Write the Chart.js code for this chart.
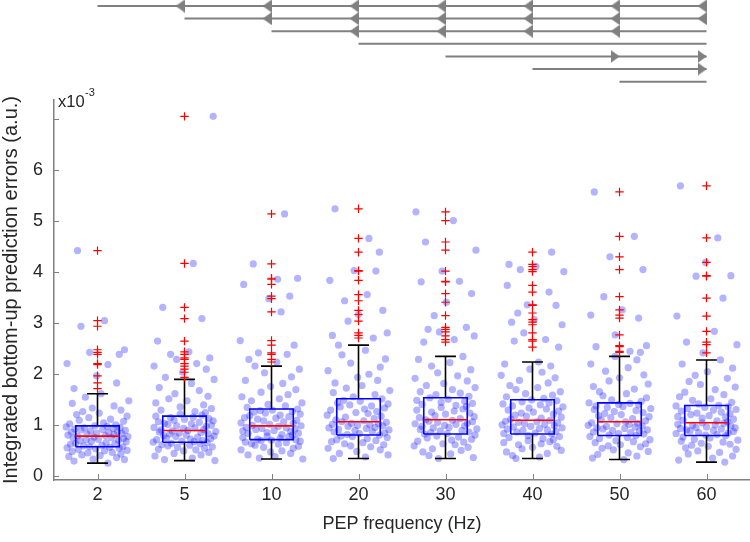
<!DOCTYPE html>
<html>
<head>
<meta charset="utf-8">
<script src="https://cdn.jsdelivr.net/npm/chart.js@4.4.1/dist/chart.umd.min.js"></script>
<style>
  html, body { margin: 0; padding: 0; background: #fff; }
  #wrap { position: relative; width: 750px; height: 542px; }
  #wrap canvas { position: absolute; left: 0; top: 0; }
</style>
</head>
<body>
<div id="wrap">
  <canvas id="mainChart" width="750" height="542"></canvas>
  <canvas id="sigChart" width="750" height="95"></canvas>
</div>
<script>
// values in units of 1e-3
const categories = ["2", "5", "10", "20", "30", "40", "50", "60"];
const whiskerLow = [0.26, 0.31, 0.34, 0.35, 0.35, 0.35, 0.33, 0.28];
const q1 = [0.58, 0.67, 0.72, 0.81, 0.83, 0.83, 0.80, 0.80];
const medians = [0.79, 0.90, 0.99, 1.07, 1.11, 1.10, 1.07, 1.05];
const q3 = [0.99, 1.18, 1.32, 1.52, 1.54, 1.50, 1.44, 1.39];
const whiskerHigh = [1.62, 1.90, 2.16, 2.57, 2.35, 2.24, 2.35, 2.28];
const yTicks = [0, 1, 2, 3, 4, 5, 6, 7];

const outliers = [
  [1.72, 1.83, 1.97, 2.19, 2.21, 2.39, 2.43, 2.48, 2.94, 3.05, 4.42],
  [1.94, 2.04, 2.10, 2.16, 2.21, 2.29, 2.32, 2.39, 2.44, 2.65, 3.09, 3.31, 4.17, 7.05],
  [2.24, 2.29, 2.39, 2.42, 2.57, 2.66, 3.22, 3.48, 3.53, 3.76, 3.86, 3.88, 4.16, 5.14],
  [2.71, 2.76, 2.81, 3.04, 3.17, 3.25, 3.44, 3.56, 3.84, 4.02, 4.03, 4.39, 4.66, 5.24],
  [2.63, 2.68, 2.75, 2.83, 2.88, 2.92, 3.15, 3.41, 3.58, 3.81, 3.82, 4.02, 4.43, 4.59, 5.01, 5.18],
  [2.53, 2.65, 2.68, 2.81, 2.97, 3.02, 3.07, 3.20, 3.35, 3.36, 3.61, 3.74, 4.01, 4.05, 4.11, 4.15, 4.39],
  [2.43, 2.45, 2.54, 2.56, 2.77, 3.10, 3.16, 3.26, 3.52, 4.05, 4.30, 4.70, 5.57],
  [2.42, 2.58, 2.63, 2.84, 3.14, 3.49, 3.92, 3.93, 4.19, 4.67, 5.69]
];

// individual trials (inliers), read roughly off the point clouds
const samples = [
  [0.26, 0.30, 0.33, 0.34, 0.37, 0.39, 0.41, 0.42, 0.44, 0.46, 0.47, 0.49, 0.50, 0.51, 0.53, 0.54, 0.55, 0.56, 0.57, 0.58,
   0.58, 0.60, 0.61, 0.63, 0.64, 0.65, 0.66, 0.68, 0.69, 0.70, 0.71, 0.72, 0.73, 0.74, 0.75, 0.76, 0.77, 0.78, 0.79,
   0.80, 0.81, 0.82, 0.83, 0.84, 0.85, 0.86, 0.87, 0.88, 0.89, 0.90, 0.91, 0.92, 0.93, 0.94, 0.95, 0.96, 0.97, 0.98, 0.99,
   1.01, 1.03, 1.05, 1.08, 1.10, 1.12, 1.15, 1.18, 1.21, 1.24, 1.27, 1.30, 1.34, 1.38, 1.43, 1.48, 1.55, 1.62],
  [0.31, 0.33, 0.36, 0.40, 0.42, 0.45, 0.47, 0.50, 0.52, 0.53, 0.55, 0.57, 0.58, 0.60, 0.61, 0.62, 0.64, 0.65, 0.66, 0.67,
   0.68, 0.69, 0.70, 0.72, 0.73, 0.74, 0.75, 0.77, 0.78, 0.79, 0.80, 0.81, 0.83, 0.84, 0.85, 0.86, 0.87, 0.88, 0.89, 0.90,
   0.91, 0.92, 0.94, 0.95, 0.96, 0.98, 0.99, 1.00, 1.02, 1.03, 1.04, 1.06, 1.07, 1.09, 1.10, 1.12, 1.13, 1.15, 1.16, 1.18,
   1.20, 1.22, 1.25, 1.27, 1.30, 1.33, 1.36, 1.40, 1.44, 1.48, 1.52, 1.57, 1.62, 1.68, 1.74, 1.82, 1.90],
  [0.34, 0.36, 0.39, 0.42, 0.45, 0.48, 0.50, 0.52, 0.55, 0.57, 0.59, 0.61, 0.63, 0.64, 0.66, 0.67, 0.69, 0.70, 0.71, 0.72,
   0.73, 0.75, 0.76, 0.78, 0.79, 0.81, 0.82, 0.84, 0.85, 0.86, 0.88, 0.89, 0.90, 0.92, 0.93, 0.94, 0.95, 0.96, 0.98, 0.99,
   1.00, 1.02, 1.04, 1.05, 1.07, 1.09, 1.10, 1.12, 1.14, 1.15, 1.17, 1.19, 1.20, 1.22, 1.24, 1.26, 1.27, 1.29, 1.30, 1.32,
   1.35, 1.38, 1.41, 1.44, 1.48, 1.52, 1.56, 1.60, 1.65, 1.70, 1.76, 1.82, 1.88, 1.95, 2.03, 2.10, 2.16],
  [0.35, 0.38, 0.42, 0.45, 0.49, 0.52, 0.55, 0.58, 0.60, 0.62, 0.64, 0.66, 0.68, 0.70, 0.72, 0.74, 0.76, 0.78, 0.79, 0.81,
   0.82, 0.84, 0.85, 0.87, 0.88, 0.90, 0.91, 0.92, 0.94, 0.95, 0.96, 0.98, 0.99, 1.00, 1.01, 1.02, 1.03, 1.04, 1.06, 1.07,
   1.09, 1.11, 1.13, 1.16, 1.18, 1.20, 1.23, 1.25, 1.27, 1.30, 1.32, 1.34, 1.36, 1.38, 1.40, 1.42, 1.44, 1.47, 1.49, 1.52,
   1.56, 1.60, 1.64, 1.68, 1.73, 1.78, 1.83, 1.88, 1.94, 2.00, 2.07, 2.14, 2.22, 2.30, 2.38, 2.47, 2.57],
  [0.35, 0.37, 0.41, 0.44, 0.48, 0.51, 0.54, 0.57, 0.60, 0.62, 0.64, 0.67, 0.69, 0.71, 0.73, 0.75, 0.77, 0.79, 0.81, 0.83,
   0.84, 0.86, 0.87, 0.89, 0.90, 0.92, 0.93, 0.95, 0.96, 0.98, 0.99, 1.00, 1.02, 1.03, 1.04, 1.06, 1.07, 1.08, 1.10, 1.11,
   1.13, 1.15, 1.17, 1.19, 1.22, 1.24, 1.26, 1.28, 1.30, 1.32, 1.35, 1.37, 1.39, 1.41, 1.43, 1.45, 1.47, 1.49, 1.51, 1.54,
   1.57, 1.60, 1.63, 1.66, 1.70, 1.74, 1.78, 1.82, 1.87, 1.92, 1.97, 2.03, 2.09, 2.16, 2.23, 2.29, 2.35],
  [0.35, 0.38, 0.41, 0.45, 0.48, 0.51, 0.54, 0.57, 0.59, 0.62, 0.64, 0.66, 0.68, 0.70, 0.72, 0.74, 0.76, 0.78, 0.80, 0.83,
   0.84, 0.85, 0.87, 0.88, 0.90, 0.91, 0.93, 0.94, 0.95, 0.97, 0.98, 0.99, 1.01, 1.02, 1.03, 1.05, 1.06, 1.07, 1.08, 1.10,
   1.12, 1.14, 1.16, 1.18, 1.20, 1.22, 1.24, 1.26, 1.28, 1.30, 1.32, 1.34, 1.36, 1.38, 1.40, 1.42, 1.44, 1.46, 1.48, 1.50,
   1.53, 1.56, 1.59, 1.62, 1.66, 1.70, 1.74, 1.78, 1.83, 1.88, 1.93, 1.98, 2.04, 2.10, 2.16, 2.20, 2.24],
  [0.33, 0.36, 0.40, 0.43, 0.46, 0.49, 0.52, 0.55, 0.58, 0.60, 0.62, 0.64, 0.66, 0.68, 0.70, 0.72, 0.74, 0.76, 0.78, 0.80,
   0.81, 0.83, 0.84, 0.86, 0.87, 0.89, 0.90, 0.91, 0.93, 0.94, 0.95, 0.97, 0.98, 0.99, 1.00, 1.02, 1.03, 1.04, 1.05, 1.07,
   1.09, 1.11, 1.13, 1.15, 1.17, 1.19, 1.21, 1.23, 1.25, 1.27, 1.29, 1.31, 1.33, 1.35, 1.37, 1.38, 1.40, 1.41, 1.43, 1.44,
   1.47, 1.50, 1.54, 1.58, 1.62, 1.66, 1.71, 1.76, 1.81, 1.87, 1.93, 1.99, 2.06, 2.13, 2.20, 2.28, 2.35],
  [0.28, 0.32, 0.36, 0.40, 0.44, 0.47, 0.50, 0.53, 0.56, 0.59, 0.61, 0.63, 0.65, 0.67, 0.69, 0.71, 0.73, 0.75, 0.77, 0.80,
   0.81, 0.82, 0.84, 0.85, 0.86, 0.88, 0.89, 0.90, 0.91, 0.93, 0.94, 0.95, 0.96, 0.97, 0.99, 1.00, 1.01, 1.02, 1.04, 1.05,
   1.07, 1.09, 1.10, 1.12, 1.14, 1.16, 1.17, 1.19, 1.21, 1.23, 1.24, 1.26, 1.28, 1.30, 1.31, 1.33, 1.35, 1.36, 1.38, 1.39,
   1.42, 1.45, 1.49, 1.52, 1.56, 1.60, 1.65, 1.70, 1.75, 1.80, 1.86, 1.92, 1.98, 2.05, 2.12, 2.20, 2.28]
];

// horizontal scatter offsets for the dots (category units)
const jitter = [0.12, -0.27, 0.31, -0.05, 0.22, -0.33, 0.03, -0.18, 0.27, -0.11, 0.17, -0.29, 0.08, 0.34, -0.22, -0.02,
  0.25, -0.35, 0.14, -0.09, 0.29, -0.16, 0.05, -0.31, 0.20, -0.25, 0.10, 0.33, -0.07, -0.20, 0.24, -0.13, 0.01, 0.30,
  -0.28, 0.16, -0.04, 0.35, -0.23, 0.09, -0.34, 0.19, -0.12, 0.28, -0.01, 0.13, -0.30, 0.23, -0.08, 0.32, -0.19, 0.06,
  -0.26, 0.18, -0.15, 0.26, -0.36, 0.11, -0.03, 0.21, -0.32, 0.07, 0.30, -0.21, 0.15, -0.10, 0.34, -0.24, 0.02, -0.17,
  0.27, -0.06, 0.19, -0.29, 0.36, -0.14, 0.04, -0.27, 0.22, -0.01, 0.12, -0.35, 0.25, -0.09, 0.31, -0.19, 0.08, -0.23,
  0.17, -0.30, 0.33, -0.12, 0.00, 0.28, -0.16, 0.10, -0.33, 0.20, -0.05, 0.24];

// pairwise comparisons drawn above the plot: row r spans from column sigRowStart[r] to the last column
const sigRowStart = [0, 1, 2, 3, 4, 5, 6];
const leftMarks = [[1, 2, 3, 4, 5, 6, 7], [2, 3, 4, 5, 6, 7], [3, 4, 5, 6], [], [], [], []];
const rightMarks = [[], [], [], [], [6, 7], [7], []];

const FONT = '"Liberation Sans", Arial, Helvetica, sans-serif';
const TEXT = "#262626";
const AXIS = "#808080";
const BOX_HALF = 0.25;
const CAP_HALF = 0.12;
const GAP = { x: NaN, y: NaN };

// ---- build datasets from the arrays ----
const dotData = [];
samples.forEach((vals, g) => {
  vals.concat(outliers[g]).forEach((v, i) => {
    dotData.push({ x: g + jitter[(i + g * 37) % jitter.length], y: v });
  });
});

const boxData = [], medData = [], whiskData = [], outData = [];
categories.forEach((c, g) => {
  boxData.push({ x: g - BOX_HALF, y: q1[g] }, { x: g + BOX_HALF, y: q1[g] }, { x: g + BOX_HALF, y: q3[g] },
    { x: g - BOX_HALF, y: q3[g] }, { x: g - BOX_HALF, y: q1[g] }, GAP);
  medData.push({ x: g - BOX_HALF, y: medians[g] }, { x: g + BOX_HALF, y: medians[g] }, GAP);
  whiskData.push({ x: g, y: q3[g] }, { x: g, y: whiskerHigh[g] }, GAP,
    { x: g - CAP_HALF, y: whiskerHigh[g] }, { x: g + CAP_HALF, y: whiskerHigh[g] }, GAP,
    { x: g, y: q1[g] }, { x: g, y: whiskerLow[g] }, GAP,
    { x: g - CAP_HALF, y: whiskerLow[g] }, { x: g + CAP_HALF, y: whiskerLow[g] }, GAP);
  outliers[g].forEach(v => outData.push({ x: g, y: v }));
});

const axisExtras = {
  id: "axisExtras",
  afterDraw(chart) {
    const { ctx, chartArea, scales } = chart;
    ctx.save();
    ctx.strokeStyle = AXIS;
    ctx.lineWidth = 1;
    ctx.beginPath();
    yTicks.forEach(v => {
      const py = Math.round(scales.y.getPixelForValue(v)) + 0.5;
      ctx.moveTo(chartArea.left, py);
      ctx.lineTo(chartArea.left + 5, py);
    });
    categories.forEach((c, i) => {
      const px = Math.round(scales.x.getPixelForValue(i)) + 0.5;
      ctx.moveTo(px, chartArea.bottom);
      ctx.lineTo(px, chartArea.bottom - 6);
    });
    ctx.stroke();
    // exponent label
    ctx.fillStyle = TEXT;
    ctx.textBaseline = "alphabetic";
    ctx.font = "16.5px " + FONT;
    ctx.fillText("x10", chartArea.left + 4, chartArea.top + 6.5);
    const w = ctx.measureText("x10").width;
    ctx.font = "11px " + FONT;
    ctx.fillText("-3", chartArea.left + 4 + w + 0.5, chartArea.top - 4);
    ctx.restore();
  }
};

new Chart(document.getElementById("mainChart"), {
  type: "line",
  data: {
    datasets: [
      { data: outData, type: "scatter", showLine: false, pointStyle: "cross", pointRadius: 4.2,
        borderColor: "#ff0000", backgroundColor: "#ff0000", borderWidth: 1.2, order: 0 },
      { data: medData, borderColor: "#ff0000", borderWidth: 1.6, pointRadius: 0, order: 1 },
      { data: boxData, borderColor: "#0000ff", borderWidth: 1.6, pointRadius: 0, order: 2 },
      { data: whiskData, borderColor: "#000000", borderWidth: 1.6, pointRadius: 0, order: 3 },
      { data: dotData, type: "scatter", showLine: false, pointRadius: 3.6, borderWidth: 0,
        backgroundColor: "rgba(20,20,255,0.32)", order: 4 }
    ]
  },
  options: {
    responsive: false,
    animation: false,
    layout: { autoPadding: false, padding: { top: 100, right: 0, bottom: 0, left: 0 } },
    plugins: { legend: { display: false }, tooltip: { enabled: false } },
    elements: { line: { tension: 0, fill: false, borderJoinStyle: "miter" } },
    scales: {
      x: {
        type: "linear",
        min: -0.5,
        max: 7.5,
        afterBuildTicks: s => { s.ticks = categories.map((c, i) => ({ value: i })); },
        afterFit: s => { s.height = 62; },
        grid: { display: false, drawTicks: false, tickLength: 0 },
        border: { display: true, color: AXIS, width: 1.5 },
        ticks: {
          callback: v => categories[v],
          autoSkip: false, maxRotation: 0, padding: 4,
          color: TEXT, font: { family: FONT, size: 18 }
        },
        title: { display: true, text: "PEP frequency (Hz)", color: TEXT,
          font: { family: FONT, size: 18 }, padding: { top: 0, bottom: 7 } }
      },
      y: {
        type: "linear",
        min: -0.07,
        max: 7.37,
        afterBuildTicks: s => { s.ticks = yTicks.map(v => ({ value: v })); },
        afterFit: s => { s.width = 54; },
        grid: { display: false, drawTicks: false, tickLength: 0 },
        border: { display: true, color: AXIS, width: 1.5 },
        ticks: {
          callback: v => (v <= 6 ? String(v) : ""),
          padding: 11,
          color: TEXT, font: { family: FONT, size: 18 }
        },
        title: { display: true, text: "Integrated bottom-up prediction errors (a.u.)", color: TEXT,
          font: { family: FONT, size: 20 }, padding: { top: -1, bottom: 0 } }
      }
    }
  },
  plugins: [axisExtras]
});

// ---- comparison arrows above the plot ----
function arrowHead(pointLeft) {
  const c = document.createElement("canvas");
  c.width = 9; c.height = 13;
  const g = c.getContext("2d");
  g.fillStyle = "#808080";
  g.beginPath();
  if (pointLeft) { g.moveTo(0, 6.5); g.lineTo(9, 0); g.lineTo(9, 13); }
  else { g.moveTo(9, 6.5); g.lineTo(0, 0); g.lineTo(0, 13); }
  g.closePath();
  g.fill();
  return c;
}
const HEAD_SHIFT = -0.05; // heads sit just left of the column position
const lastCol = categories.length - 1;
const sigLines = [], leftHeads = [], rightHeads = [];
sigRowStart.forEach((s, r) => {
  sigLines.push({ x: s, y: r }, { x: lastCol, y: r }, GAP);
  leftMarks[r].forEach(c => leftHeads.push({ x: c + HEAD_SHIFT, y: r }));
  rightMarks[r].forEach(c => rightHeads.push({ x: c + HEAD_SHIFT, y: r }));
});

new Chart(document.getElementById("sigChart"), {
  type: "line",
  data: {
    datasets: [
      { data: leftHeads, type: "scatter", showLine: false, pointStyle: arrowHead(true), order: 0 },
      { data: rightHeads, type: "scatter", showLine: false, pointStyle: arrowHead(false), order: 0 },
      { data: sigLines, borderColor: "#808080", borderWidth: 2, pointRadius: 0, order: 1 }
    ]
  },
  options: {
    responsive: false,
    animation: false,
    layout: { autoPadding: false, padding: { top: 0, right: 0, bottom: 0, left: 54 } },
    plugins: { legend: { display: false }, tooltip: { enabled: false } },
    scales: {
      x: { type: "linear", display: false, min: -0.5, max: 7.5 },
      y: { type: "linear", display: false, reverse: true, min: -0.476, max: 7.06 }
    }
  }
});
</script>
</body>
</html>
